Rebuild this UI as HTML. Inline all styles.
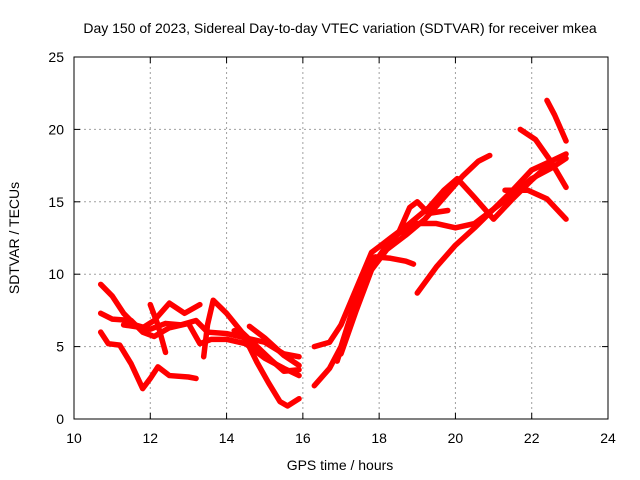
<!DOCTYPE html>
<html><head><meta charset="utf-8"><style>
body{margin:0;background:#fff}
svg{display:block;font-family:"Liberation Sans",sans-serif;font-size:14px}
</style></head><body>
<svg id="chart" width="640" height="480">
<rect width="640" height="480" fill="#fff"/>
<text x="340" y="33" text-anchor="middle">Day 150 of 2023, Sidereal Day-to-day VTEC variation (SDTVAR) for receiver mkea</text>
<g id="grid"></g><g id="series"></g><g id="axes"></g>
<text x="340" y="470" text-anchor="middle">GPS time / hours</text>
<text transform="translate(19,238) rotate(-90)" text-anchor="middle">SDTVAR / TECUs</text>
</svg>
<script>
const xTicks=[10,12,14,16,18,20,22,24];
const yTicks=[0,5,10,15,20,25];
const trackA=[[10.7,9.3],[11.0,8.5],[11.3,7.3],[11.6,6.5],[12.0,6.2],[12.4,6.6],[12.8,6.5],[13.2,6.8],[13.5,6.0],[14.0,5.9],[14.5,5.6],[15.0,5.3],[15.5,4.5],[15.9,4.3]];
const trackB=[[10.7,7.3],[11.0,6.9],[11.5,6.8],[11.8,6.0],[12.1,5.7],[12.5,6.3],[13.0,6.6],[13.3,5.2],[13.6,5.5],[14.0,5.5],[14.5,5.2],[15.0,4.2],[15.5,3.5],[15.9,3.0]];
const trackC=[[10.7,6.0],[10.9,5.2],[11.2,5.1],[11.5,3.8],[11.8,2.1],[12.0,2.8],[12.2,3.6],[12.5,3.0],[13.0,2.9],[13.2,2.8]];
const trackD=[[11.3,6.5],[11.8,6.3],[12.1,6.8],[12.5,8.0],[12.9,7.3],[13.3,7.9]];
const trackE=[[12.0,7.9],[12.2,6.5],[12.4,4.6]];
const trackF=[[13.4,4.3],[13.5,6.5],[13.65,8.2],[14.0,7.3],[14.4,6.0],[14.8,5.0],[15.2,4.0],[15.5,3.3],[15.9,3.4]];
const trackG=[[14.2,6.1],[14.5,5.5],[14.8,3.9],[15.1,2.5],[15.4,1.2],[15.6,0.9],[15.9,1.4]];
const trackH=[[14.6,6.4],[15.0,5.6],[15.5,4.4],[15.9,3.7]];
const trackRa=[[16.3,2.3],[16.7,3.5],[17.0,5.0],[17.3,7.5],[17.6,10.0],[17.9,11.2],[18.3,11.1],[18.7,10.9],[18.9,10.7]];
const trackRb=[[16.9,4.0],[17.2,6.5],[17.5,8.5],[17.8,10.5],[18.2,12.0],[18.5,12.8],[18.8,14.6],[19.0,15.0],[19.3,14.2],[19.8,14.4]];
const trackRc=[[16.3,5.0],[16.7,5.3],[17.0,6.5],[17.4,9.0],[17.8,11.5],[18.3,12.5],[18.8,13.5],[19.3,14.6],[19.7,15.8],[20.05,16.6],[20.5,15.3],[21.0,13.8],[21.5,15.2],[22.0,16.5],[22.5,17.7]];
const trackRd=[[17.0,4.5],[17.4,7.5],[17.8,10.3],[18.2,11.7],[18.7,12.7],[19.2,13.8],[19.7,15.3],[20.2,16.8],[20.6,17.8],[20.9,18.2]];
const trackRe=[[19.0,8.7],[19.5,10.5],[20.0,12.0],[20.5,13.2],[21.0,14.5],[21.5,15.8],[22.0,17.2],[22.5,17.8],[22.9,18.3]];
const trackRf=[[21.7,20.0],[22.1,19.3],[22.5,17.8],[22.9,16.0]];
const trackRg=[[22.4,22.0],[22.6,21.0],[22.9,19.2]];
const trackRh=[[21.3,15.8],[21.9,15.8],[22.4,15.2],[22.9,13.8]];
const trackRi=[[18.5,12.8],[19.0,13.5],[19.5,13.5],[20.0,13.2],[20.5,13.5],[21.0,14.5],[21.5,15.5],[22.0,16.6],[22.5,17.3],[22.9,18.0]];
const tracks=[trackA,trackB,trackC,trackD,trackE,trackF,trackG,trackH,trackRa,trackRb,trackRc,trackRd,trackRe,trackRf,trackRg,trackRh,trackRi];
const X0=74,X1=608,Y0=419,Y1=57;
const xs=v=>X0+(v-10)/(24-10)*(X1-X0);
const ys=v=>Y0-(v/25)*(Y0-Y1);
const NS="http://www.w3.org/2000/svg";
const grid=document.getElementById('grid'),axes=document.getElementById('axes'),ser=document.getElementById('series');
function mk(tag,at,p){const e=document.createElementNS(NS,tag);for(const k in at)e.setAttribute(k,at[k]);p.appendChild(e);return e;}
xTicks.forEach(t=>{const x=xs(t);
 if(t>10&&t<24){const g=mk('line',{x1:x,x2:x,y1:Y1,y2:Y0,stroke:'#a0a0a0','stroke-dasharray':'2,3'},grid);
 
 }
 mk('line',{x1:x,x2:x,y1:Y0,y2:Y0-6,stroke:'#000'},axes);mk('line',{x1:x,x2:x,y1:Y1,y2:Y1+6,stroke:'#000'},axes);
 const l=mk('text',{x:x,y:Y0+24,'text-anchor':'middle'},axes);l.textContent=t;
 
 });
yTicks.forEach(t=>{const y=ys(t);
 if(t>0&&t<25){const g=mk('line',{x1:X0,x2:X1,y1:y,y2:y,stroke:'#a0a0a0','stroke-dasharray':'2,3'},grid);
 
 }
 mk('line',{x1:X0,x2:X0+6,y1:y,y2:y,stroke:'#000'},axes);mk('line',{x1:X1,x2:X1-6,y1:y,y2:y,stroke:'#000'},axes);
 const l=mk('text',{x:X0-10,y:y+5,'text-anchor':'end'},axes);l.textContent=t;
 
 });
const fr=mk('rect',{x:X0,y:Y1,width:X1-X0,height:Y0-Y1,fill:'none',stroke:'#000'},axes);


tracks.forEach(tr=>{const p=mk('polyline',{points:tr.map(d=>xs(d[0])+','+ys(d[1])).join(' '),fill:'none',stroke:'#ff0000','stroke-width':5.5,'stroke-linejoin':'round','stroke-linecap':'round'},ser);
 
 });
</script>
</body></html>
